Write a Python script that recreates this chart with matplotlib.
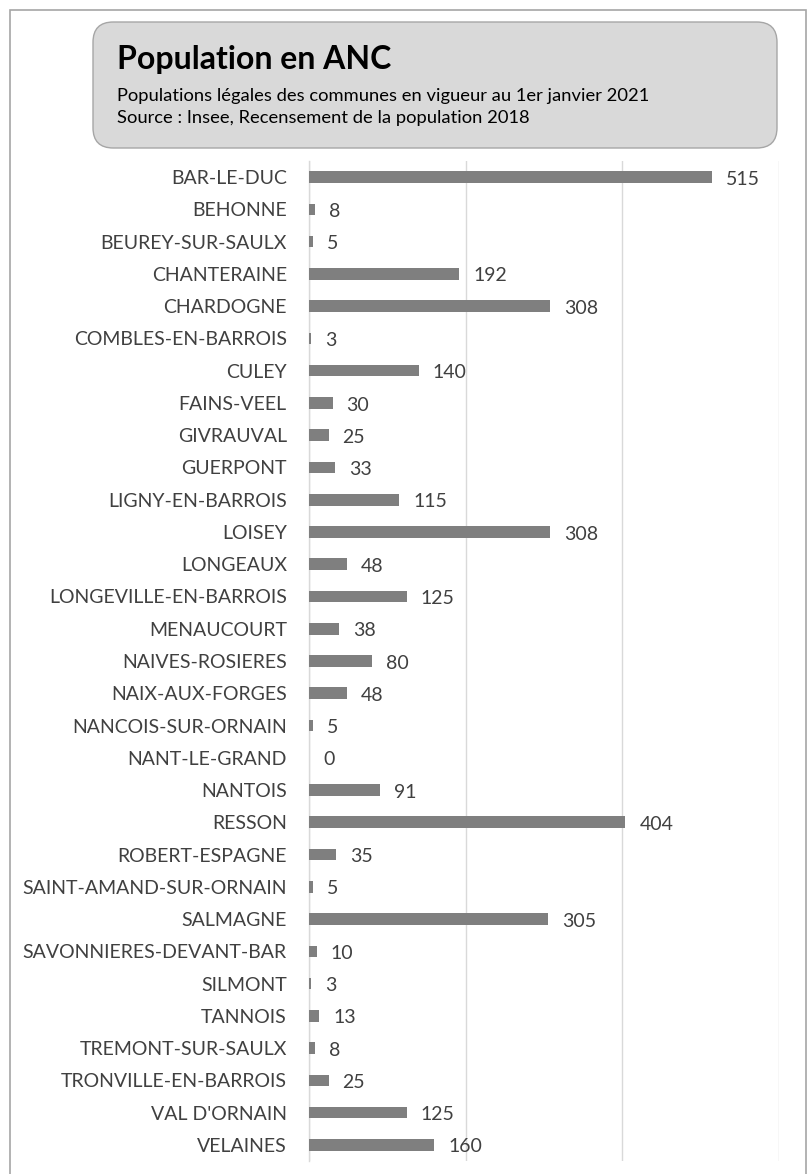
import matplotlib
matplotlib.use("Agg")
import matplotlib.pyplot as plt
from matplotlib.patches import FancyBboxPatch, Rectangle

communes = ["BAR-LE-DUC", "BEHONNE", "BEUREY-SUR-SAULX", "CHANTERAINE", "CHARDOGNE",
            "COMBLES-EN-BARROIS", "CULEY", "FAINS-VEEL", "GIVRAUVAL", "GUERPONT",
            "LIGNY-EN-BARROIS", "LOISEY", "LONGEAUX", "LONGEVILLE-EN-BARROIS", "MENAUCOURT",
            "NAIVES-ROSIERES", "NAIX-AUX-FORGES", "NANCOIS-SUR-ORNAIN", "NANT-LE-GRAND", "NANTOIS",
            "RESSON", "ROBERT-ESPAGNE", "SAINT-AMAND-SUR-ORNAIN", "SALMAGNE", "SAVONNIERES-DEVANT-BAR",
            "SILMONT", "TANNOIS", "TREMONT-SUR-SAULX", "TRONVILLE-EN-BARROIS", "VAL D'ORNAIN",
            "VELAINES"]
population = [515, 8, 5, 192, 308, 3, 140, 30, 25, 33, 115, 308, 48, 125, 38, 80, 48, 5, 0, 91,
              404, 35, 5, 305, 10, 3, 13, 8, 25, 125, 160]
x_ticks = [0, 200, 400, 600]

title = "Population en ANC"
subtitle1 = "Populations légales des communes en vigueur au 1er janvier 2021"
subtitle2 = "Source : Insee, Recensement de la population 2018"

plt.rcParams['font.family'] = ['Lato', 'DejaVu Sans']

W, H = 811, 1174
fig = plt.figure(figsize=(W / 100, H / 100), dpi=100)

# outer border
fig.patches.append(Rectangle((10 / W, -0.01), (806 - 10) / W, 1 - 10 / H + 0.01,
                             transform=fig.transFigure, fill=False,
                             edgecolor="#a6a6a6", linewidth=1.2))

# title box
bx0, by0, bx1, by1 = 93, 22, 777, 148
fig.patches.append(FancyBboxPatch((bx0 / W, 1 - by1 / H), (bx1 - bx0) / W, (by1 - by0) / H,
                                  boxstyle="round,pad=0,rounding_size=0.025",
                                  transform=fig.transFigure, facecolor="#d9d9d9",
                                  edgecolor="#a6a6a6", linewidth=1.0,
                                  mutation_aspect=W / H))
fig.text(117 / W, 1 - 60 / H, title, fontsize=23, fontweight="bold", color="black",
         va="center", ha="left")
fig.text(117 / W, 1 - 96 / H, subtitle1, fontsize=13.2, color="black", va="center", ha="left")
fig.text(117 / W, 1 - 118 / H, subtitle2, fontsize=13.2, color="black", va="center", ha="left")

left, right = 309, 779
top, bottom = 161, 1161
ax = fig.add_axes([left / W, 1 - bottom / H, (right - left) / W, (bottom - top) / H])

ypos = list(range(len(communes)))
ax.barh(ypos, population, height=0.36, color="#7f7f7f", zorder=3)
ax.set_ylim(len(communes) - 0.5, -0.5)
ax.set_xlim(0, 600)
ax.set_xticks(x_ticks)
ax.tick_params(axis="x", length=0, labelbottom=False)
ax.xaxis.grid(True, color="#d9d9d9", linewidth=1.0, zorder=0)
ax.set_yticks(ypos)
ax.set_yticklabels(communes, fontsize=14, color="#404040")
ax.tick_params(axis="y", length=0, pad=16)
for s in ["top", "right", "bottom"]:
    ax.spines[s].set_visible(False)
ax.spines["left"].set_color("#d9d9d9")
ax.spines["left"].set_linewidth(1.0)

for y, v in zip(ypos, population):
    ax.annotate(str(v), xy=(v, y), xytext=(10, -1.5), textcoords="offset points",
                ha="left", va="center", fontsize=14, color="#404040")

fig.savefig("out.png", dpi=100)
